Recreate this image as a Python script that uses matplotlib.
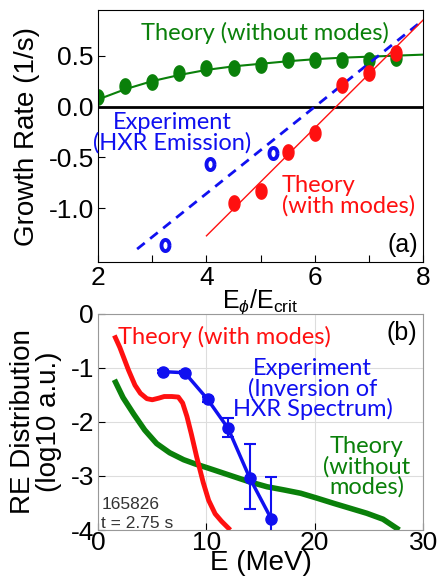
import numpy as np
import matplotlib
matplotlib.use('Agg')
import matplotlib.pyplot as plt
from matplotlib.path import Path

plt.rcParams['font.family'] = ['Liberation Sans', 'DejaVu Sans']
plt.rcParams['mathtext.fontset'] = 'custom'
plt.rcParams['mathtext.rm'] = 'Liberation Sans'
plt.rcParams['mathtext.it'] = 'Liberation Sans:italic'
plt.rcParams['axes.unicode_minus'] = False
ann_font = ['Lato', 'DejaVu Sans']  # narrower humanist face for the labels in the panels

# ---- panel (a): growth rate vs E_phi/E_crit ----
green_x = [2.0, 2.5, 3.0, 3.5, 4.0, 4.5, 5.0, 5.5, 6.0, 6.5, 7.0, 7.5]
green_y = [0.09, 0.20, 0.245, 0.33, 0.38, 0.38, 0.41, 0.46, 0.46, 0.46, 0.46, 0.48]
green_fit_x = [2.0, 2.5, 3.0, 3.5, 4.0, 4.5, 5.0, 5.5, 6.0, 6.5, 7.0, 7.5, 8.0]
green_fit_y = [0.07, 0.17, 0.25, 0.31, 0.36, 0.395, 0.42, 0.445, 0.465, 0.48, 0.49, 0.50, 0.51]

red_x = [4.5, 5.0, 5.5, 6.0, 6.5, 7.0, 7.5]
red_y = [-0.95, -0.83, -0.45, -0.26, 0.21, 0.33, 0.53]
red_fit_x = [4.0, 8.0]
red_fit_y = [-1.27, 0.85]

exp_x = [3.24, 4.07, 5.23]
exp_y = [-1.36, -0.56, -0.46]
exp_fit_x = [2.72, 8.0]
exp_fit_y = [-1.40, 0.85]

# ---- panel (b): RE distribution vs energy ----
red_E = [1.5, 2.0, 2.8, 3.4, 3.9, 4.5, 5.0, 5.6, 6.1, 6.8, 7.4, 7.8, 8.2, 8.6, 9.1, 9.7, 10.2, 10.8, 11.4, 12.2]
red_f = [-0.40, -0.62, -1.04, -1.32, -1.47, -1.57, -1.59, -1.56, -1.53, -1.53, -1.54, -1.65, -1.90, -2.22, -2.65, -3.12, -3.45, -3.70, -3.84, -4.0]
green_E = [1.5, 2.3, 3.3, 4.3, 5.4, 6.6, 7.9, 9.0, 10.1, 11.3, 12.5, 14.0, 15.6, 17.2, 18.7, 20.2, 21.8, 23.3, 24.8, 26.3, 27.8]
green_f = [-1.22, -1.55, -1.86, -2.15, -2.40, -2.57, -2.70, -2.78, -2.85, -2.93, -3.01, -3.11, -3.20, -3.26, -3.32, -3.41, -3.51, -3.60, -3.69, -3.80, -4.0]
exp_E = [6.0, 8.0, 10.1, 12.0, 14.0, 16.0]
exp_f = [-1.07, -1.09, -1.58, -2.12, -3.04, -3.80]
exp_ferr_lo = [0.03, 0.03, 0.05, 0.15, 0.58, 0.35]
exp_ferr_hi = [0.03, 0.03, 0.05, 0.19, 0.63, 0.79]

# vertical ellipse marker
t = np.linspace(0, 2 * np.pi, 40)
ellipse = Path(np.column_stack([0.72 * np.cos(t), np.sin(t)]))

green = '#0a800a'
blue = '#1010f0'
red = '#ff1010'

fig = plt.figure(figsize=(4.44, 5.79), dpi=100)
ax1 = fig.add_axes([0.221, 0.547, 0.732, 0.436])
ax2 = fig.add_axes([0.221, 0.0846, 0.732, 0.3734])

ax1.axhline(0, color='black', lw=2)
ax1.plot(green_fit_x, green_fit_y, color=green, lw=1.5)
ax1.plot(green_x, green_y, ls='none', marker=ellipse, ms=11, color=green)
ax1.plot(exp_fit_x, exp_fit_y, color=blue, lw=2, ls=(0, (3.5, 2.5)))
ax1.plot(red_fit_x, red_fit_y, color=red, lw=1)
ax1.plot(red_x, red_y, ls='none', marker=ellipse, ms=11, color=red)
ax1.plot(exp_x, exp_y, ls='none', marker=ellipse, ms=8, mfc='white', mec=blue, mew=2.8)

ax1.set_xlim(2, 8)
ax1.set_ylim(-1.53, 0.95)
ax1.set_xticks([2, 3, 4, 5, 6, 7, 8])
ax1.set_xticklabels(['2', '', '4', '', '6', '', '8'])
ax1.set_yticks([-1.0, -0.5, 0.0, 0.5])
ax1.tick_params(direction='in', labelsize=19, length=5)
ax1.tick_params(axis='y', pad=3)
ax1.tick_params(axis='x', pad=3)
ax1.set_ylabel('Growth Rate (1/s)', fontsize=20, labelpad=6)
ax1.set_xlabel(r'E$_\phi$/E$_{\rm crit}$', fontsize=18, labelpad=-2)

ax1.text(5.08, 0.725, 'Theory (without modes)', color=green, fontsize=17, ha='center', va='center',
         family=ann_font)
ax1.text(3.37, -0.26, 'Experiment\n(HXR Emission)', color=blue, fontsize=17, ha='center', va='center',
         linespacing=0.95, family=ann_font)
ax1.text(5.39, -0.88, 'Theory\n(with modes)', color=red, fontsize=17, ha='left', va='center',
         linespacing=0.95, family=ann_font)
ax1.text(7.9, -1.36, '(a)', color='black', fontsize=18, ha='right', va='center')

ax2.grid(True, color='#dddddd', lw=0.8)
ax2.set_axisbelow(True)
ax2.plot(green_E, green_f, color=green, lw=4, solid_capstyle='butt')
ax2.plot(red_E, red_f, color=red, lw=3.5, solid_capstyle='butt')
ax2.errorbar(exp_E, exp_f, yerr=[exp_ferr_lo, exp_ferr_hi], color=blue, lw=2.5, marker='o', ms=8,
             capsize=4, elinewidth=1.5, capthick=1.5)

ax2.set_xlim(0, 30)
ax2.set_ylim(-4, 0)
ax2.set_xticks([0, 10, 20, 30])
ax2.set_yticks([0, -1, -2, -3, -4])
ax2.tick_params(direction='in', labelsize=19, length=5, colors='black')
ax2.tick_params(axis='y', pad=3)
ax2.tick_params(axis='x', pad=1)
for s in ax2.spines.values():
    s.set_color('#999999')
ax2.set_ylabel('RE Distribution\n(log10 a.u.)', fontsize=20, labelpad=6, linespacing=1.0)
ax2.set_xlabel('E (MeV)', fontsize=20, labelpad=-4)

ax2.text(11.7, -0.43, 'Theory (with modes)', color=red, fontsize=17, ha='center', va='center',
         family=ann_font)
ax2.text(19.8, -1.39, 'Experiment\n(Inversion of\nHXR Spectrum)', color=blue, fontsize=17,
         ha='center', va='center', linespacing=0.95, family=ann_font)
ax2.text(24.8, -2.83, 'Theory\n(without\nmodes)', color=green, fontsize=17, ha='center', va='center',
         linespacing=0.95, family=ann_font)
ax2.text(29.45, -0.35, '(b)', color='black', fontsize=18, ha='right', va='center')
ax2.text(0.3, -3.7, '165826\nt = 2.75 s', color='#333333', fontsize=12.5, ha='left', va='center',
         linespacing=1.3)

fig.savefig('out.png', dpi=100)
